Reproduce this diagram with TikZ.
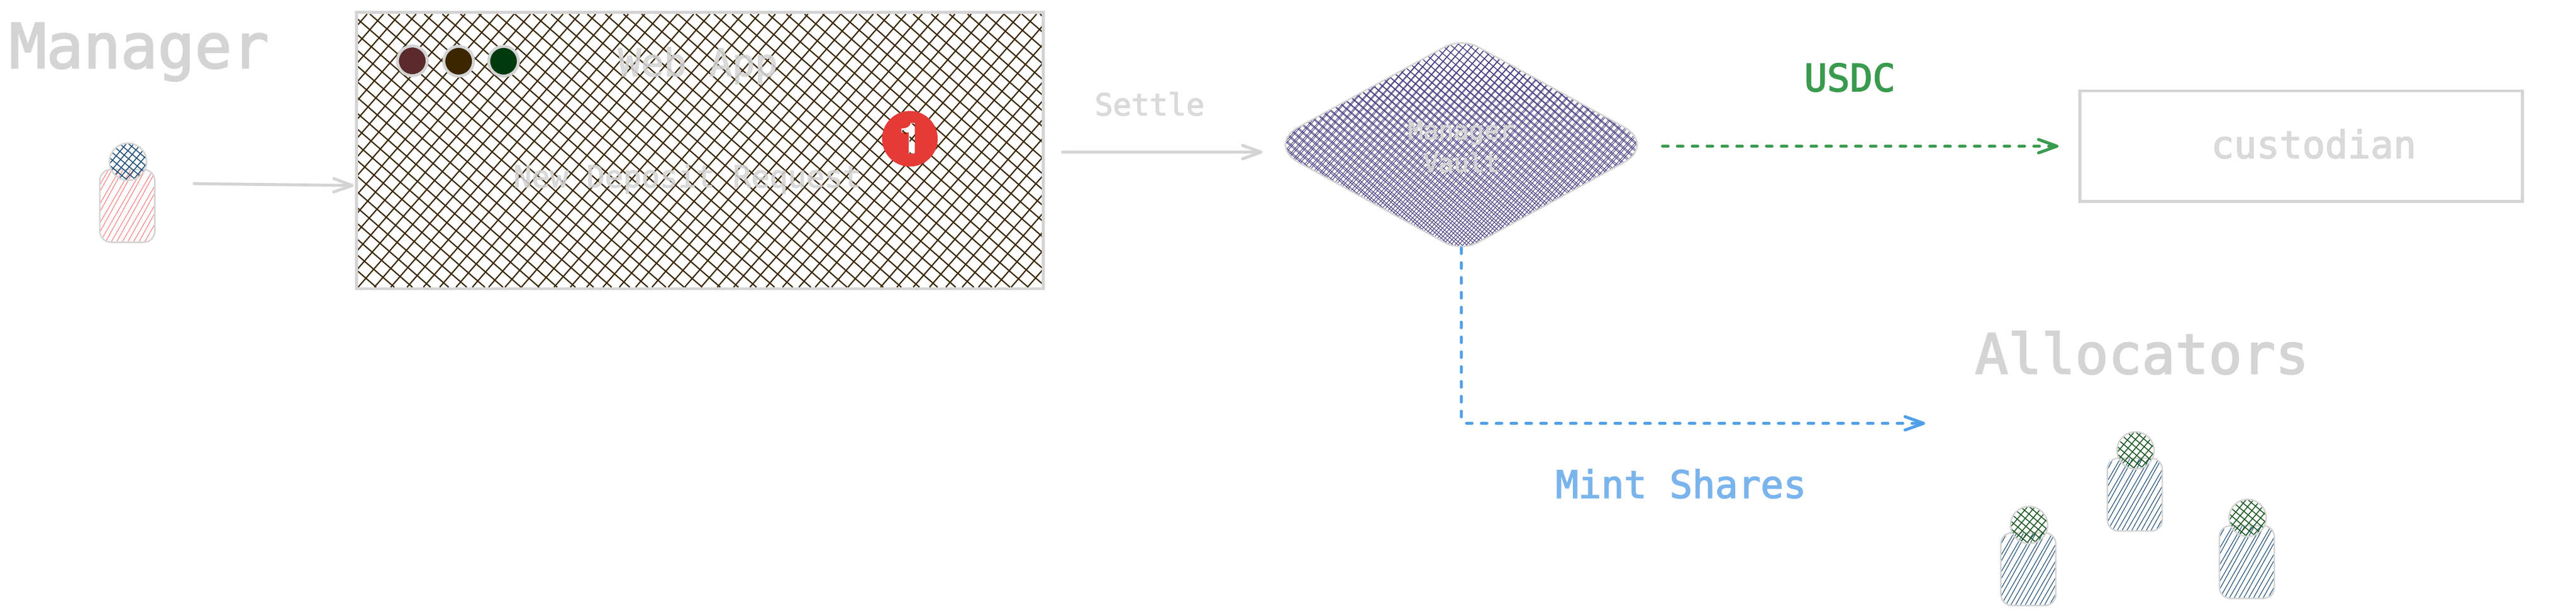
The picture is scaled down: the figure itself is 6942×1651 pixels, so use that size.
\documentclass[tikz,border=0pt]{standalone}
\usepackage{fontspec}
\setmainfont{TeX Gyre Heros}
\setmonofont{DejaVu Sans Mono}[FakeBold=2.5]
\usetikzlibrary{arrows.meta,calc,shapes.geometric}
\definecolor{outl}{HTML}{D4D4D4}
\definecolor{webhatch}{HTML}{3B2808}
\definecolor{vaulthatch}{HTML}{483C82}
\definecolor{redbody}{HTML}{FF8080}
\definecolor{navyhatch}{HTML}{1D4E7A}
\definecolor{greenhatch}{HTML}{1C5A22}
\definecolor{usdcgreen}{HTML}{3A9A4E}
\definecolor{mintline}{HTML}{4F9FE8}
\definecolor{minttext}{HTML}{7AB4EC}
\definecolor{badge}{HTML}{E53B37}
\definecolor{dotone}{HTML}{5A2A2C}
\definecolor{dottwo}{HTML}{3B2600}
\definecolor{dotthree}{HTML}{003B0E}
\tikzset{
  greyarrow/.style={draw=outl,line width=0.08cm,line cap=round,
    -{Straight Barb[length=0.5cm,width=0.36cm,line width=0.08cm,round]}},
  dashline/.style={line width=0.08cm,line cap=round,dash pattern=on 0.15cm off 0.25cm,
    -{Straight Barb[length=0.5cm,width=0.36cm,line width=0.08cm,round]}},
  dot/.style={circle,draw=outl,line width=0.08cm,minimum size=0.8cm,inner sep=0pt,outer sep=0pt},
  bodybox/.style={rectangle,draw=outl,line width=0.04cm,rounded corners=0.3cm,minimum width=1.48cm,minimum height=1.96cm,inner sep=0pt,outer sep=0pt},
  headbox/.style={circle,draw=outl,line width=0.04cm,minimum size=1cm,inner sep=0pt,outer sep=0pt},
  frame/.style={rectangle,draw=outl,line width=0.08cm,inner sep=0pt,outer sep=0pt},
  title/.style={text=outl,font=\ttfamily\fontsize{47.2}{50}\selectfont,inner sep=0pt,anchor=base},
  alloctitle/.style={text=outl,font=\ttfamily\fontsize{42.5}{46}\selectfont,inner sep=0pt,anchor=base},
  labelbig/.style={font=\ttfamily\fontsize{29}{32}\selectfont,inner sep=0pt,anchor=base},
  faint/.style={text=outl,text opacity=0.83,inner sep=0pt,anchor=base},
  labelsmall/.style={font=\ttfamily\fontsize{23.3}{26}\selectfont},
}
% #1 style, #2-#5 box, #6 dx per unit of rise, #7 gap, #8 phase
\newcommand{\hatchlines}[8]{%
  \pgfmathsetmacro\hxb{(#2)+(#8)}%
  \pgfmathsetmacro\hxt{\hxb+((#5)-(#3))*(#6)}%
  \pgfmathtruncatemacro\hkmin{floor(((#2)-max(\hxb,\hxt))/(#7))}%
  \pgfmathtruncatemacro\hkmax{ceil(((#4)-min(\hxb,\hxt))/(#7))}%
  \foreach \hk in {\hkmin,...,\hkmax}{%
    \draw[#1] ({\hxb+\hk*(#7)},{#5}) -- ({\hxt+\hk*(#7)},{#3});
  }%
}
% #1 name, #2 #3 head centre, #4 body colour, #5 head colour, #6 body gap
\newcommand{\person}[6]{%
  \begin{scope}
    \clip[rounded corners=0.3cm] ({#2-76},{#3+21}) rectangle ({#2+72},{#3+217});
    \hatchlines{draw=#4,line width=0.018cm}{#2-76}{#3+21}{#2+72}{#3+217}{0.58}{#6}{0}
    \hatchlines{draw=#4,line width=0.018cm}{#2-76}{#3+21}{#2+72}{#3+217}{0.55}{#6}{(#6)/2}
  \end{scope}
  \node[bodybox] (#1body) at ({#2-2},{#3+119}) {};
  \begin{scope}
    \clip ({#2},{#3}) circle (50);
    \hatchlines{draw=#5,line width=0.025cm}{#2-52}{#3-52}{#2+52}{#3+52}{0.84}{20}{3}
    \hatchlines{draw=#5,line width=0.025cm}{#2-52}{#3-52}{#2+52}{#3+52}{-1.19}{24}{5}
  \end{scope}
  \node[headbox] (#1head) at (#2,#3) {};
}
\newcommand{\vaultpath}{($(vault.west)!.5!(vault.north)$) [rounded corners=0.5cm] -- (vault.north) -- ($(vault.north)!.5!(vault.east)$) [rounded corners=1cm] -- (vault.east) -- ($(vault.east)!.5!(vault.south)$) [rounded corners=0.5cm] -- (vault.south) -- ($(vault.south)!.5!(vault.west)$) [rounded corners=1cm] -- (vault.west) -- cycle}
\begin{document}
\begin{tikzpicture}[x=0.01cm,y=-0.01cm]
\useasboundingbox (0,0) rectangle (6942,1651);
\fill[white] (0,0) rectangle (6942,1651);

% Manager
\node[title] (mgrtitle) at (375,183) {Manager};
\person{mgr}{345}{436}{redbody}{navyhatch}{30}

% Web app hatch and frame
\begin{scope}
  \clip (965,38) rectangle (2807,774);
  \hatchlines{draw=webhatch,line width=0.035cm}{965}{38}{2807}{774}{-1.15}{48.8}{0}
  \hatchlines{draw=webhatch,line width=0.035cm}{965}{38}{2807}{774}{0.87}{44}{0}
\end{scope}
\node[frame,minimum width=18.5cm,minimum height=7.44cm] (webapp) at (1886,406) {};
\node[dot,fill=dotone] (dotred) at (1111,164) {};
\node[dot,fill=dottwo] (dotbrown) at (1236,165) {};
\node[dot,fill=dotthree] (dotgreen) at (1357,165) {};
\node[faint,font=\ttfamily\fontsize{29}{32}\selectfont] (webtitle) at (1881,205) {Web App};
\node[faint,labelsmall] (deposit) at (1852,505) {New Deposit Request};

% Badge
\node[circle,fill=badge,minimum size=1.5cm,inner sep=0pt,outer sep=0pt] (badgenode) at (2452,374) {};
\node[text=white,font=\bfseries\fontsize{33}{36}\selectfont,inner sep=0pt,anchor=base] (badgeone) at (2454,414) {1};
\begin{scope}
  \clip (2451,333) -- (2466,333) -- (2466,414) -- (2451,414) -- (2451,356) -- (2431,367) -- (2431,352) .. controls (2441,348) and (2448,342) .. (2451,333) -- cycle;
  \hatchlines{draw=webhatch,line width=0.035cm}{965}{38}{2807}{774}{-1.15}{48.8}{0}
  \hatchlines{draw=webhatch,line width=0.035cm}{965}{38}{2807}{774}{0.87}{44}{0}
\end{scope}

% Vault
\node[diamond,shape aspect=1.823,minimum width=10.5cm,minimum height=5.76cm,inner sep=0pt,outer sep=0pt] (vault) at (3938,390) {};
\begin{scope}
  \clip \vaultpath;
  \hatchlines{draw=vaulthatch,line width=0.016cm}{3400}{100}{4470}{680}{-1.15}{24}{0}
  \hatchlines{draw=vaulthatch,line width=0.016cm}{3400}{100}{4470}{680}{-1.17}{24}{11}
  \hatchlines{draw=vaulthatch,line width=0.016cm}{3400}{100}{4470}{680}{0.87}{21}{0}
  \hatchlines{draw=vaulthatch,line width=0.016cm}{3400}{100}{4470}{680}{0.89}{21}{9}
\end{scope}
\draw[draw=outl,line width=0.04cm] \vaultpath;
\node[text=outl,font=\ttfamily\fontsize{19.35}{25}\selectfont,align=center,inner sep=0pt] (vaultlabel) at (3938,395) {Manager\\Vault};

% Custodian
\node[frame,minimum width=11.92cm,minimum height=2.98cm] (custodian) at (6201,394) {};
\node[faint,font=\ttfamily\fontsize{29}{32}\selectfont] (custodianlabel) at (6235,426) {custodian};

% Labels
\node[faint,labelsmall] (settlelabel) at (3098,311) {Settle};
\node[labelbig,text=usdcgreen] (usdclabel) at (4985,246) {USDC};
\node[labelbig,text=minttext] (mintlabel) at (4530,1342) {Mint Shares};
\node[alloctitle] (alloctitle) at (5772,1007) {Allocators};

% Allocators
\person{alloca}{5468}{1415}{navyhatch}{greenhatch}{26}
\person{allocb}{5755}{1214}{navyhatch}{greenhatch}{26}
\person{allocc}{6057}{1396}{navyhatch}{greenhatch}{26}

% Connectors
\coordinate (mgrout) at (523,495);
\coordinate (allocin) at (5188,1141);
\draw[greyarrow,shorten >=0.07cm] (mgrout) -- ([yshift=-0.94cm]webapp.west);
\draw[greyarrow,shorten <=0.52cm,shorten >=0.1cm] ([yshift=-0.04cm]webapp.east) -- ([yshift=-0.2cm]vault.west);
\draw[dashline,draw=usdcgreen,shorten <=0.17cm,shorten >=0.57cm] ([yshift=-0.04cm]vault.east) -- (custodian.west);
\draw[dashline,draw=mintline,rounded corners=0.15cm,shorten <=-0.1cm] (vault.south) |- (allocin);
\end{tikzpicture}
\end{document}
